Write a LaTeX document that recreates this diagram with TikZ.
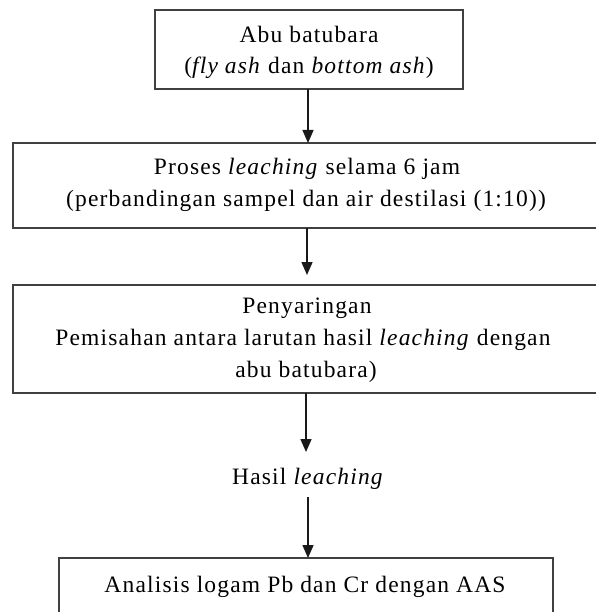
\documentclass[tikz,border=0pt]{standalone}
\usepackage{fontspec}
\setmainfont{Liberation Serif}[LetterSpace=5]
\usetikzlibrary{arrows.meta}
\tikzset{
  boxnode/.style={draw=black!75, line width=1.5pt, rectangle, inner sep=0pt, outer sep=0pt},
  txt/.style={anchor=base, inner sep=0pt, font=\fontsize{23.5}{31}\selectfont},
  flowarrow/.style={draw=black!90, line width=1.5pt, -{Triangle[length=13pt,width=11pt]}}
}
\begin{document}
\begin{tikzpicture}[x=1pt,y=-1pt]
\useasboundingbox (0,0) rectangle (595,612);
% boxes
\node[boxnode, minimum width=308pt, minimum height=79pt] (b1) at (309,49.5) {};
\node[boxnode, minimum width=587pt, minimum height=85pt] (b2) at (306.5,185.5) {};
\node[boxnode, minimum width=587pt, minimum height=108pt] (b3) at (306.5,339) {};
\node[boxnode, minimum width=494pt, minimum height=62pt] (b4) at (306,589) {};
% texts
\node[txt] (t1a) at (309,43) {Abu batubara};
\node[txt] (t1b) at (309,74) {(\textit{fly ash} dan \textit{bottom ash})};
\node[txt] (t2a) at (307,175) {Proses \textit{leaching} selama 6 jam};
\node[txt] (t2b) at (306,207) {(perbandingan sampel dan air destilasi (1:10))};
\node[txt] (t3a) at (307,313) {Penyaringan};
\node[txt] (t3b) at (303,345) {Pemisahan antara larutan hasil \textit{leaching} dengan};
\node[txt] (t3c) at (306,377) {abu batubara)};
\node[txt, anchor=center] (hasil) at (308,479) {Hasil \textit{leaching}};
\node[txt] (t4) at (305,592) {Analisis logam Pb dan Cr dengan AAS};
% arrows
\draw[flowarrow] (b1.south -| 308,0) -- (b2.north -| 308,0);
\draw[flowarrow, shorten >=10pt] (b2.south -| 307,0) -- (b3.north -| 307,0);
\draw[flowarrow] (b3.south -| 306,0) -- (306,452);
\draw[flowarrow] (308,497) -- (b4.north -| 308,0);
\end{tikzpicture}
\end{document}
